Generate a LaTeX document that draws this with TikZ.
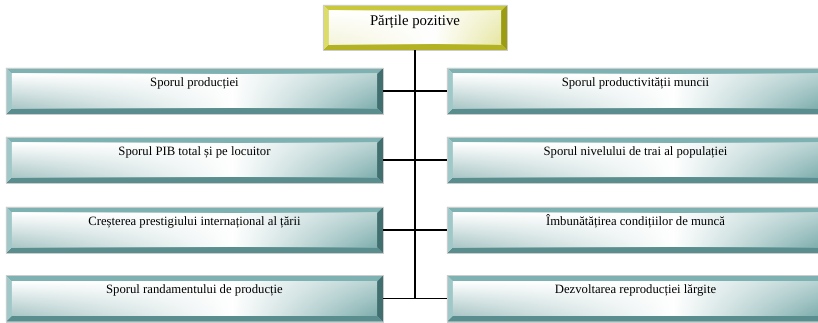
\documentclass[tikz,border=0pt]{standalone}
\usepackage{fontspec}
\setmainfont{Liberation Serif}
\usetikzlibrary{calc,backgrounds,fadings}
\definecolor{tTop}{HTML}{7EB1B1}
\definecolor{tLeft}{HTML}{A0C8C8}
\definecolor{tRight}{HTML}{416E6E}
\definecolor{tBot}{HTML}{5A8D8D}
\definecolor{tA}{HTML}{A9C6C6}
\definecolor{tB}{HTML}{7FAEAE}
\definecolor{yTop}{HTML}{C8C83A}
\definecolor{yLeft}{HTML}{DCDC6A}
\definecolor{yRight}{HTML}{9C9C12}
\definecolor{yBot}{HTML}{B2B222}
\definecolor{yA}{HTML}{F4F4DA}
\definecolor{yB}{HTML}{E6E6A0}
\tikzset{
  rowbox/.style={minimum width=377pt, minimum height=46pt, inner sep=0pt,
    text height=9pt, text depth=19pt, font=\fontsize{12.7}{14}\selectfont},
  headbox/.style={minimum width=184pt, minimum height=45pt, inner sep=0pt,
    text height=10pt, text depth=15pt, font=\fontsize{14.8}{16}\selectfont},
  conn/.style={line width=1.5pt, black},
}
\newcommand\drawbevel[2]{%
  \fill[#2Top] (#1.north west) -- (#1.north east) -- ($(#1.north east)+(-6,6)$) -- ($(#1.north west)+(6,6)$) -- cycle;
  \fill[#2Bot] (#1.south west) -- (#1.south east) -- ($(#1.south east)+(-6,-6)$) -- ($(#1.south west)+(6,-6)$) -- cycle;
  \fill[#2Left] (#1.north west) -- ($(#1.north west)+(6,6)$) -- ($(#1.south west)+(6,-6)$) -- (#1.south west) -- cycle;
  \fill[#2Right] (#1.north east) -- ($(#1.north east)+(-6,6)$) -- ($(#1.south east)+(-6,-6)$) -- (#1.south east) -- cycle;
  \fill[white] ($(#1.north west)+(6,6)$) rectangle ($(#1.south east)+(-6,-6)$);
  \shade[top color=white, bottom color=#2A, path fading=east]
    ($(#1.north west)+(6,6)$) rectangle ($(#1.south west)!.6!(#1.south east)+(0,-6)$);
  \shade[top color=#2B!55, bottom color=#2B, path fading=west]
    ($(#1.north west)!.6!(#1.north east)+(0,6)$) rectangle ($(#1.south east)+(-6,-6)$);
  \draw[black!20, line width=.4pt] (#1.north west) rectangle (#1.south east);
}
\begin{document}
\begin{tikzpicture}[x=1pt,y=-1pt]
\useasboundingbox (0,0) rectangle (818,322);
\clip (0,0) rectangle (818,322);
\node[headbox] (top) at (415,27.5) {Părțile pozitive};
\node[rowbox] (l1) at (194.5,91) {Sporul producției};
\node[rowbox] (l2) at (194.5,160) {Sporul PIB total și pe locuitor};
\node[rowbox] (l3) at (194.5,230) {Creșterea prestigiului internațional al țării};
\node[rowbox] (l4) at (194.5,298.5) {Sporul randamentului de producție};
\node[rowbox] (r1) at (635.5,91) {Sporul productivității muncii};
\node[rowbox] (r2) at (635.5,160) {Sporul nivelului de trai al populației};
\node[rowbox] (r3) at (635.5,230) {Îmbunătățirea condițiilor de muncă};
\node[rowbox] (r4) at (635.5,298.5) {Dezvoltarea reproducției lărgite};
\begin{scope}[on background layer]
  \drawbevel{top}{y}
  \foreach \n in {l1,l2,l3,l4,r1,r2,r3,r4} {\drawbevel{\n}{t}}
\end{scope}
\coordinate (vend) at (top.south |- l4.east);
\draw[conn] (top.south) -- (vend);
\foreach \i in {1,2,3,4} {\draw[conn] (l\i.east) -- (r\i.west);}
\end{tikzpicture}
\end{document}
